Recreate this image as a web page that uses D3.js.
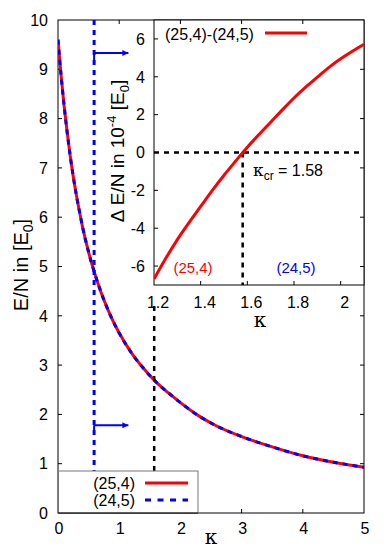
<!DOCTYPE html>
<html><head><meta charset="utf-8">
<script src="https://cdn.jsdelivr.net/npm/d3@7/dist/d3.min.js"></script>
<style>body{margin:0;background:#fff}svg{display:block}text{font-family:"Liberation Sans",Arial,sans-serif;}</style>
</head><body><svg id="c" width="392" height="549"></svg>
<script>
// ---- data ----
const kappa = [0,0.05,0.1,0.15,0.2,0.25,0.3,0.35,0.4,0.5,0.6,0.7,0.8,0.9,1.0,1.2,1.4,1.6,1.8,2.0,2.3,2.6,3.0,3.5,4.0,4.5,5.0];
const e25_4 = [9.6,8.88,8.26,7.72,7.24,6.82,6.45,6.12,5.81,5.29,4.86,4.49,4.17,3.89,3.65,3.25,2.93,2.66,2.44,2.24,1.97,1.76,1.55,1.34,1.16,1.03,0.93];
const e24_5 = [9.6,8.88,8.26,7.72,7.24,6.82,6.45,6.12,5.81,5.29,4.86,4.49,4.17,3.89,3.65,3.25,2.93,2.66,2.44,2.24,1.97,1.76,1.55,1.34,1.16,1.03,0.93];
const insetKappa = [1.2,1.25,1.3,1.35,1.4,1.45,1.5,1.55,1.6,1.65,1.7,1.75,1.8,1.85,1.9,1.95,2.0,2.05,2.1];
const deltaE = [-6.68,-5.6,-4.6,-3.7,-2.85,-2.0,-1.2,-0.45,0.28,0.95,1.6,2.25,2.88,3.45,3.98,4.5,4.95,5.35,5.72];
const mainXTicks = [0,1,2,3,4,5];
const mainYTicks = [0,1,2,3,4,5,6,7,8,9,10];
const insetXTicks = [1.2,1.4,1.6,1.8,2];
const insetYTicks = [-6,-4,-2,0,2,4,6];
const kappaBlue = 0.59;       // vertical blue marker
const arrowY = [9.33, 1.78];  // arrow heights
const arrowEnd = 1.15;
const kappaCr = 1.58;
const legendLabels = ["(25,4)","(24,5)"];

const svg = d3.select("#c");
const x = d3.scaleLinear().domain([0,5]).range([58,364]);
const y = d3.scaleLinear().domain([0,10]).range([513,20]);
const ix = d3.scaleLinear().domain([1.2,2.1]).range([154,364]);
const iy = d3.scaleLinear().domain([-7,7]).range([285,20]);
const serif = "'DejaVu Serif','Liberation Serif',serif";

const defs = svg.append("defs");
defs.append("marker").attr("id","ah").attr("viewBox","0 0 10 10").attr("refX",10).attr("refY",5)
  .attr("markerWidth",10).attr("markerHeight",6).attr("markerUnits","userSpaceOnUse").attr("orient","auto")
  .append("path").attr("d","M0,0L10,5L0,10Z").attr("fill","#0000ff");
defs.append("clipPath").attr("id","mclip").append("rect").attr("x",58).attr("y",20).attr("width",306).attr("height",493);
defs.append("clipPath").attr("id","iclip").append("rect").attr("x",154).attr("y",20).attr("width",210).attr("height",265);

// main frame
svg.append("rect").attr("x",58).attr("y",20).attr("width",306).attr("height",493).attr("fill","none").attr("stroke","#000").attr("stroke-width",1);
const tk = svg.append("g").attr("stroke","#000").attr("stroke-width",1);
mainYTicks.slice(1,-1).forEach(v=>{
  tk.append("line").attr("x1",58).attr("x2",62).attr("y1",y(v)).attr("y2",y(v));
});
mainXTicks.slice(1,-1).forEach(v=>{
  tk.append("line").attr("x1",x(v)).attr("x2",x(v)).attr("y1",513).attr("y2",509);
});
// tick labels
const tl = svg.append("g").attr("font-size",16).attr("fill","#000");
mainYTicks.forEach(v=>{
  tl.append("text").attr("x",48).attr("y",y(v)).attr("dy","0.36em").attr("text-anchor","end").text(v);
});
mainXTicks.forEach(v=>{
  tl.append("text").attr("x",x(v)+1).attr("y",534).attr("text-anchor","middle").text(v);
});
svg.append("text").attr("x",x(2.5)).attr("y",544).attr("text-anchor","middle").attr("font-size",20)
  .style("font-family",serif).text("κ");
const yl = svg.append("text").attr("transform","translate(28,265) rotate(-90)").attr("text-anchor","middle").attr("font-size",20);
yl.append("tspan").text("E/N in [E");
yl.append("tspan").attr("font-size",14).attr("dy",5).text("0");
yl.append("tspan").attr("dy",-5).text("]");

// main curves
const line = d3.line().x(d=>x(d[0])).y(d=>y(d[1])).curve(d3.curveMonotoneX);
const gm = svg.append("g").attr("clip-path","url(#mclip)");
gm.append("path").datum(kappa.map((k,i)=>[k,e25_4[i]])).attr("d",line).attr("fill","none").attr("stroke","#ff0000").attr("stroke-width",3);
gm.append("path").datum(kappa.map((k,i)=>[k,e24_5[i]])).attr("d",line).attr("fill","none").attr("stroke","#0000ff").attr("stroke-width",3).attr("stroke-dasharray","5,5");
// blue vertical
gm.append("line").attr("x1",x(kappaBlue)).attr("x2",x(kappaBlue)).attr("y1",y(10)).attr("y2",y(0))
  .attr("stroke","#0000ff").attr("stroke-width",3).attr("stroke-dasharray","5,5");
arrowY.forEach((v,i)=>{
  gm.append("line").attr("x1",x(kappaBlue)).attr("x2",x(kappaBlue)).attr("y1",y(v)).attr("y2",y(v)+(i===0?10:5))
    .attr("stroke","#0000ff").attr("stroke-width",2);
  gm.append("line").attr("x1",x(kappaBlue)).attr("x2",x(arrowEnd)).attr("y1",y(v)).attr("y2",y(v))
    .attr("stroke","#0000ff").attr("stroke-width",2).attr("marker-end","url(#ah)");
});
// black dashed vertical
gm.append("line").attr("x1",x(kappaCr)-0.5).attr("x2",x(kappaCr)-0.5).attr("y1",y(4.2)).attr("y2",y(0))
  .attr("stroke","#000").attr("stroke-width",2.5).attr("stroke-dasharray","5,5");

// legend
svg.append("rect").attr("x",58.5).attr("y",471).attr("width",139.5).attr("height",42).attr("fill","#fff").attr("stroke","#777").attr("stroke-width",1);
svg.append("line").attr("x1",58).attr("x2",198).attr("y1",513).attr("y2",513).attr("stroke","#000");
const lg = svg.append("g").attr("font-size",16);
legendLabels.forEach((t,i)=>{
  const yy = 483 + i*17;
  lg.append("text").attr("x",135).attr("y",yy).attr("dy","0.36em").attr("text-anchor","end").text(t);
  lg.append("line").attr("x1",145).attr("x2",188).attr("y1",yy).attr("y2",yy)
    .attr("stroke",i===0?"#ff0000":"#0000ff").attr("stroke-width",3).attr("stroke-dasharray",i===0?null:"6,6.5");
});

// inset
svg.append("rect").attr("x",154).attr("y",20).attr("width",210).attr("height",265).attr("fill","#fff").attr("stroke","#000").attr("stroke-width",1);
const itk = svg.append("g").attr("stroke","#000").attr("stroke-width",1);
insetYTicks.forEach(v=>{
  itk.append("line").attr("x1",154).attr("x2",158).attr("y1",iy(v)).attr("y2",iy(v));
});
insetXTicks.slice(1).forEach(v=>{
  itk.append("line").attr("x1",ix(v)).attr("x2",ix(v)).attr("y1",285).attr("y2",281);
});
const itl = svg.append("g").attr("font-size",16);
insetYTicks.forEach(v=>{
  itl.append("text").attr("x",145).attr("y",iy(v)).attr("dy","0.36em").attr("text-anchor","end").text(v);
});
insetXTicks.forEach(v=>{
  itl.append("text").attr("x",ix(v)+4).attr("y",308).attr("text-anchor","middle").text(v===2?"2":v.toFixed(1));
});
svg.append("text").attr("x",260).attr("y",327).attr("text-anchor","middle").attr("font-size",20)
  .style("font-family",serif).text("κ");
const iyl = svg.append("text").attr("transform","translate(124,151) rotate(-90)").attr("text-anchor","middle").attr("font-size",19);
iyl.append("tspan").text("Δ E/N in 10");
iyl.append("tspan").attr("font-size",13).attr("dy",-8).text("-4");
iyl.append("tspan").attr("dy",8).text(" [E");
iyl.append("tspan").attr("font-size",13).attr("dy",5).text("0");
iyl.append("tspan").attr("dy",-5).text("]");

const gi = svg.append("g").attr("clip-path","url(#iclip)");
gi.append("line").attr("x1",ix(1.2)).attr("x2",ix(2.1)).attr("y1",iy(0)).attr("y2",iy(0))
  .attr("stroke","#000").attr("stroke-width",2.5).attr("stroke-dasharray","5,5");
gi.append("line").attr("x1",ix(kappaCr)).attr("x2",ix(kappaCr)).attr("y1",iy(0)).attr("y2",iy(-7))
  .attr("stroke","#000").attr("stroke-width",2.5).attr("stroke-dasharray","5,5");
const iline = d3.line().x(d=>ix(d[0])).y(d=>iy(d[1])).curve(d3.curveMonotoneX);
gi.append("path").datum(insetKappa.map((k,i)=>[k,deltaE[i]])).attr("d",iline).attr("fill","none").attr("stroke","#ff0000").attr("stroke-width",3);

// inset legend & labels
svg.append("text").attr("x",165).attr("y",34).attr("dy","0.36em").attr("font-size",16).text("(25,4)-(24,5)");
svg.append("line").attr("x1",265).attr("x2",307).attr("y1",33).attr("y2",33).attr("stroke","#ff0000").attr("stroke-width",3);
svg.append("text").attr("x",193).attr("y",268).attr("dy","0.36em").attr("text-anchor","middle").attr("font-size",15).attr("fill","#ff0000").text("(25,4)");
svg.append("text").attr("x",296).attr("y",268).attr("dy","0.36em").attr("text-anchor","middle").attr("font-size",15).attr("fill","#0000ff").text("(24,5)");
const kc = svg.append("text").attr("x",253).attr("y",176).attr("font-size",16);
kc.append("tspan").style("font-family",serif).attr("font-size",17).text("κ");
kc.append("tspan").attr("font-size",12).attr("dy",4).text("cr");
kc.append("tspan").attr("dy",-4).text(" = 1.58");

// main mirrored ticks drawn on top
const mt = svg.append("g").attr("stroke","#000").attr("stroke-width",1);
mainYTicks.slice(1,-1).forEach(v=>{
  mt.append("line").attr("x1",364).attr("x2",360).attr("y1",y(v)).attr("y2",y(v));
});
mainXTicks.slice(1,-1).forEach(v=>{
  mt.append("line").attr("x1",x(v)).attr("x2",x(v)).attr("y1",20).attr("y2",24);
});
</script></body></html>
